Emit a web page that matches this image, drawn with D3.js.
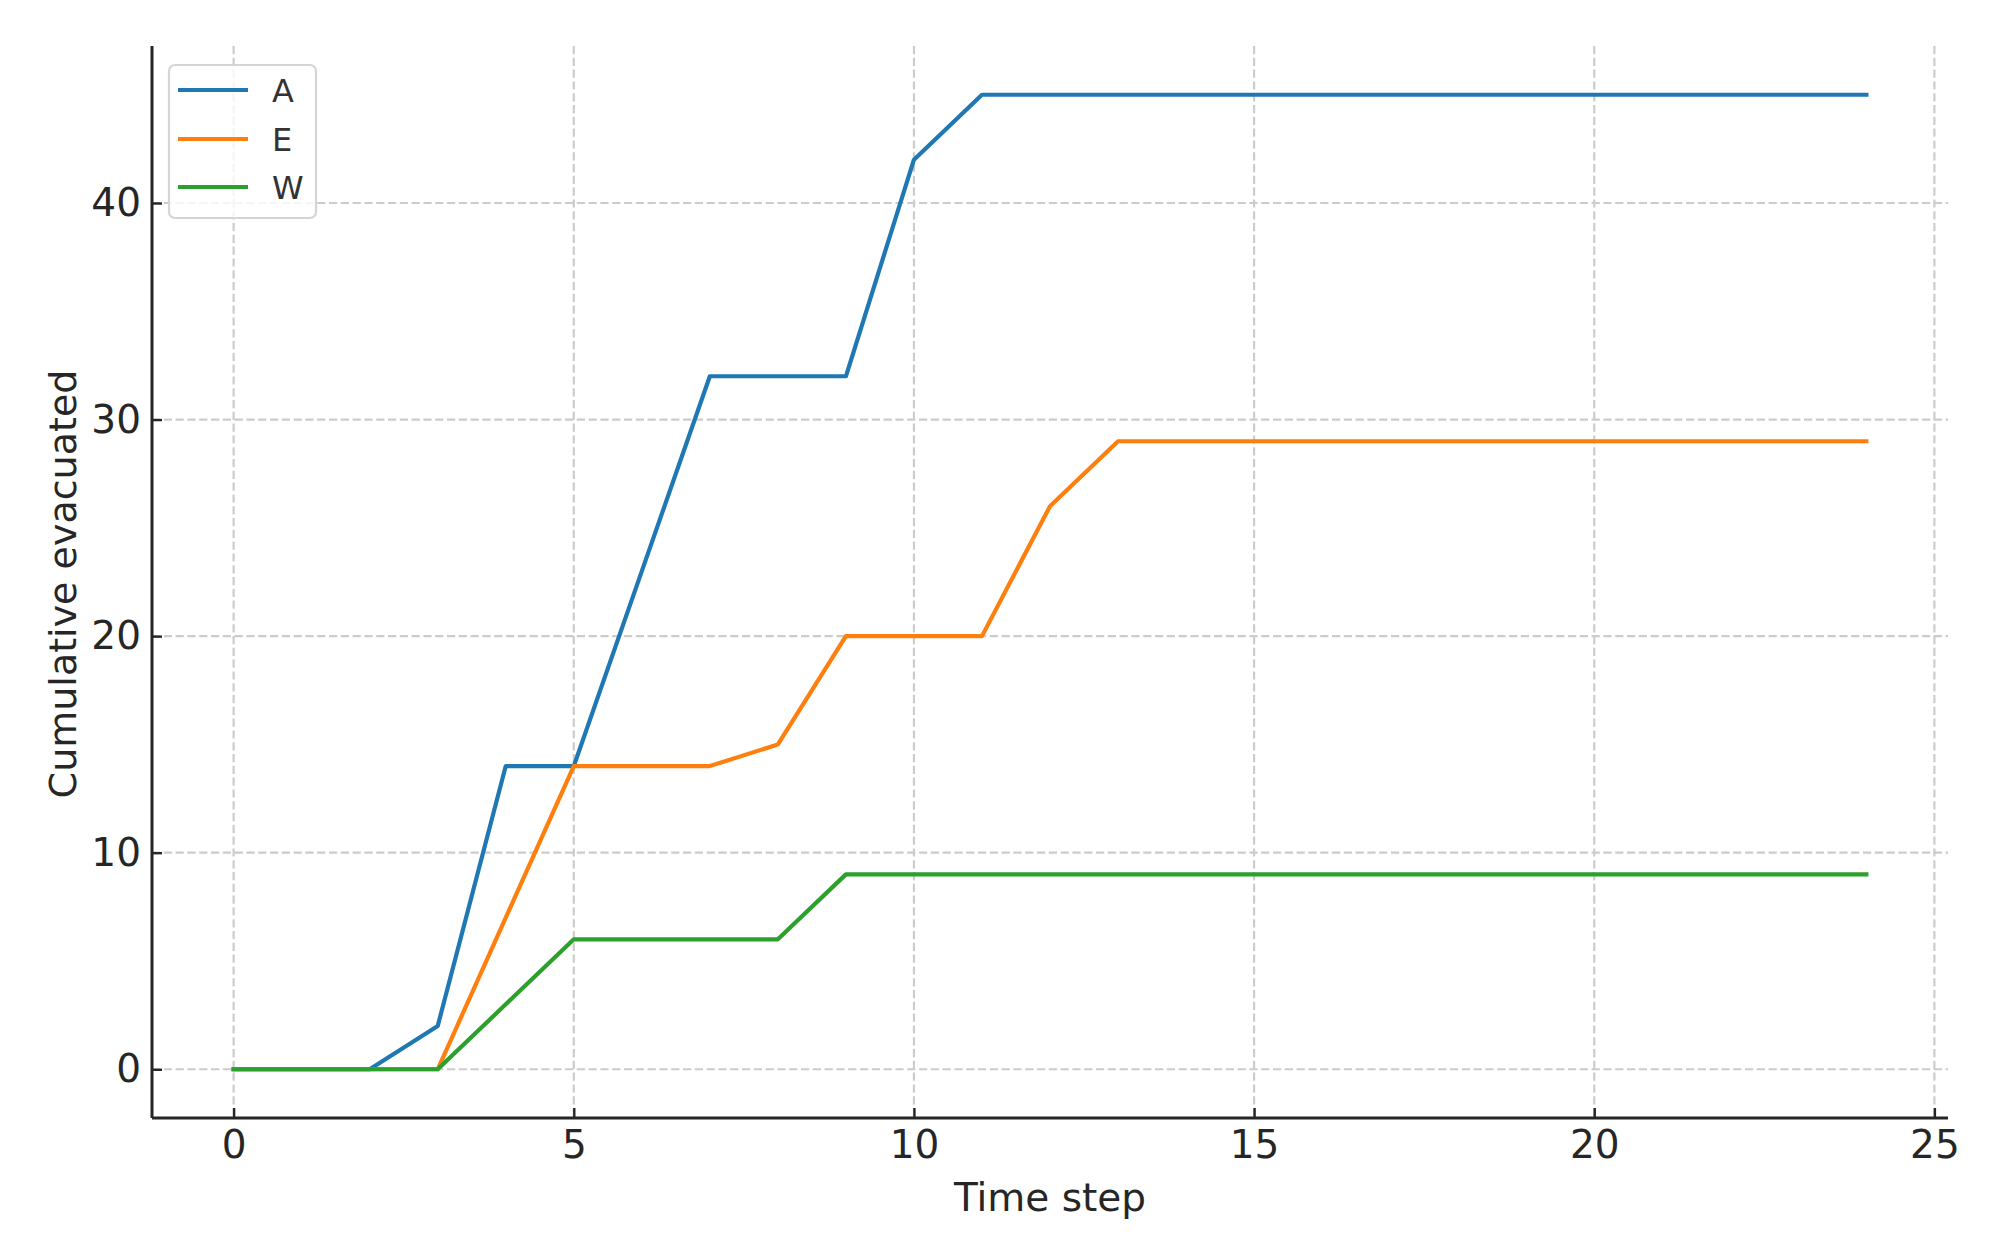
<!DOCTYPE html>
<html>
<head>
<meta charset="utf-8">
<script src="https://cdn.jsdelivr.net/npm/d3@7"></script>
<style>
  html, body { margin: 0; padding: 0; background: #ffffff; }
  svg { display: block; font-family: "DejaVu Sans", sans-serif; }
</style>
</head>
<body>
<svg id="chart" width="1989" height="1239"></svg>
<script>
// ---- data ----
const timeSteps = d3.range(0, 25); // 0..24
const seriesA = [0, 0, 0, 2, 14, 14, 23, 32, 32, 32, 42, 45, 45, 45, 45, 45, 45, 45, 45, 45, 45, 45, 45, 45, 45];
const seriesE = [0, 0, 0, 0, 7, 14, 14, 14, 15, 20, 20, 20, 26, 29, 29, 29, 29, 29, 29, 29, 29, 29, 29, 29, 29];
const seriesW = [0, 0, 0, 0, 3, 6, 6, 6, 6, 9, 9, 9, 9, 9, 9, 9, 9, 9, 9, 9, 9, 9, 9, 9, 9];
const seriesNames = ["A", "E", "W"];
const seriesColors = ["#1f77b4", "#ff7f0e", "#2ca02c"];
const xTicks = [0, 5, 10, 15, 20, 25];
const yTicks = [0, 10, 20, 30, 40];
const xLabel = "Time step";
const yLabel = "Cumulative evacuated";

const seriesData = [seriesA, seriesE, seriesW];

// ---- layout ----
const svg = d3.select("#chart");
const plotLeft = 152, plotRight = 1948, plotTop = 46, plotBottom = 1118;

const x = d3.scaleLinear().domain([-1.2, 25.2]).range([plotLeft, plotRight]);
const y = d3.scaleLinear().domain([-2.25, 47.25]).range([plotBottom, plotTop]);

const textColor = "#262626";
const gridColor = "#cccccc";

// grid
const grid = svg.append("g");
grid.selectAll("line.vg").data(xTicks).enter().append("line")
  .attr("class", "vg")
  .attr("x1", d => x(d)).attr("x2", d => x(d))
  .attr("y1", plotTop).attr("y2", plotBottom)
  .attr("stroke", gridColor).attr("stroke-width", 2.2)
  .attr("stroke-dasharray", "8.2,3.6");
grid.selectAll("line.hg").data(yTicks).enter().append("line")
  .attr("class", "hg")
  .attr("x1", plotLeft).attr("x2", plotRight)
  .attr("y1", d => y(d)).attr("y2", d => y(d))
  .attr("stroke", gridColor).attr("stroke-width", 2.2)
  .attr("stroke-dasharray", "8.2,3.6");

// lines
const line = d3.line().x((d, i) => x(timeSteps[i])).y(d => y(d));
seriesData.forEach((s, k) => {
  svg.append("path")
    .datum(s)
    .attr("d", line)
    .attr("fill", "none")
    .attr("stroke", seriesColors[k])
    .attr("stroke-width", 4.2)
    .attr("stroke-linejoin", "round")
    .attr("stroke-linecap", "square");
});

// axes
const xAxis = d3.axisBottom(x).tickValues(xTicks).tickFormat(d3.format("d"))
  .tickSizeInner(-10).tickSizeOuter(0).tickPadding(12);
const yAxis = d3.axisLeft(y).tickValues(yTicks).tickFormat(d3.format("d"))
  .tickSizeInner(-10).tickSizeOuter(0).tickPadding(11);

const gx = svg.append("g").attr("transform", `translate(0,${plotBottom})`).call(xAxis);
const gy = svg.append("g").attr("transform", `translate(${plotLeft},0)`).call(yAxis);

[gx, gy].forEach(g => {
  g.select(".domain").attr("stroke", textColor).attr("stroke-width", 3);
  g.selectAll(".tick line").attr("stroke", textColor).attr("stroke-width", 2.4);
  g.selectAll(".tick text")
    .attr("fill", textColor)
    .attr("font-size", 39)
    .attr("font-family", "DejaVu Sans, sans-serif");
});
// extend domains to the full frame
gx.select(".domain").attr("d", `M${plotLeft},0H${plotRight}`);
gy.select(".domain").attr("d", `M0,${plotTop}V${plotBottom}`);

// axis labels
svg.append("text")
  .attr("x", (plotLeft + plotRight) / 2).attr("y", 1211)
  .attr("text-anchor", "middle")
  .attr("font-size", 39).attr("fill", textColor)
  .text(xLabel);

svg.append("text")
  .attr("transform", `translate(76,${(plotTop + plotBottom) / 2 + 2}) rotate(-90)`)
  .attr("text-anchor", "middle")
  .attr("font-size", 38).attr("fill", textColor)
  .text(yLabel);

// legend
const lg = svg.append("g");
lg.append("rect")
  .attr("x", 169).attr("y", 65).attr("width", 147).attr("height", 153)
  .attr("rx", 6).attr("ry", 6)
  .attr("fill", "#ffffff").attr("fill-opacity", 0.8)
  .attr("stroke", "#d5d5d5").attr("stroke-width", 2.2);
const rowY = [90, 139, 187];
seriesNames.forEach((name, k) => {
  lg.append("line")
    .attr("x1", 178).attr("x2", 248)
    .attr("y1", rowY[k]).attr("y2", rowY[k])
    .attr("stroke", seriesColors[k]).attr("stroke-width", 4.2);
  lg.append("text")
    .attr("x", 272).attr("y", rowY[k] + 12)
    .attr("font-size", 32).attr("fill", "#333333")
    .text(name);
});
</script>
</body>
</html>
